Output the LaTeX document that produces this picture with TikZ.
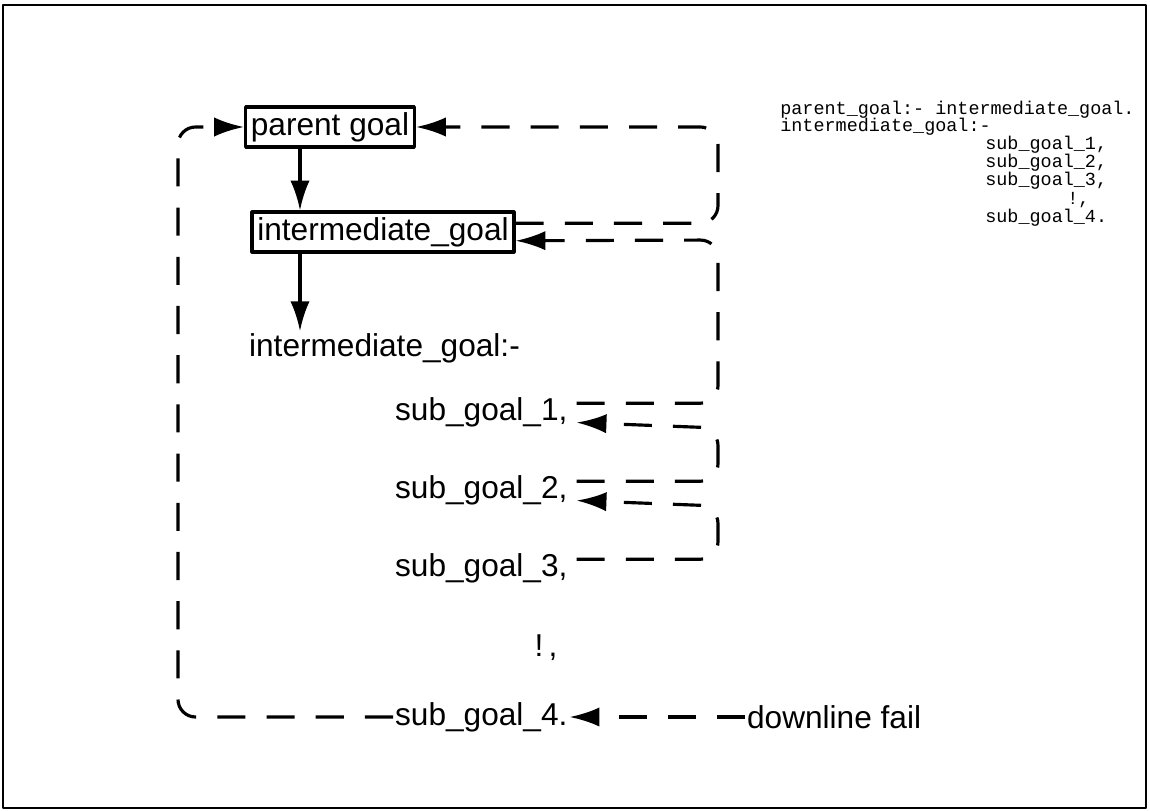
\documentclass[tikz,border=0pt]{standalone}
\usepackage{fontspec}
\setmainfont{Liberation Sans}
\newfontfamily\codefont{Liberation Mono}
\usetikzlibrary{arrows.meta}
\newcommand{\goalfont}{\fontsize{18}{20}\selectfont}
\newcommand{\clausefont}{\codefont\fontsize{10.5}{12}\selectfont}
\tikzset{
  goalbox/.style={draw, line width=1.8pt, inner sep=3pt, font=\goalfont},
  goaltext/.style={font=\goalfont, inner sep=1pt},
  clause/.style={font=\clausefont, inner sep=0pt, anchor=base west},
  call/.style={line width=1.8pt, -{Latex[length=17pt,width=11pt]}},
  fail/.style={line width=1.8pt, dash pattern=on 16pt off 12pt, rounded corners=10pt},
  failarrow/.style={fail, -{Latex[length=17pt,width=11pt]}}
}
\begin{document}
\begin{tikzpicture}[x=0.02cm, y=-0.02cm, line join=round]
  \useasboundingbox (0,0) rectangle (1150,811);
  \draw[line width=1.2pt] (3,5) rectangle (1146,808);
  % the clause as it is written
  \node[clause] (code1) at (780,114) {parent\_goal:- intermediate\_goal.};
  \node[clause] (code2) at (780,132) {intermediate\_goal:-};
  \node[clause] (code3) at (985,150) {sub\_goal\_1,};
  \node[clause] (code4) at (985,168) {sub\_goal\_2,};
  \node[clause] (code5) at (985,186) {sub\_goal\_3,};
  \node[clause] (code6) at (1067,204) {!,};
  \node[clause] (code7) at (985,222) {sub\_goal\_4.};
  % goals
  \node[goalbox] (parent) at (330,127) {parent goal};
  \node[goalbox] (inter) at (383,232) {intermediate\_goal};
  \node[goaltext, anchor=west] (head) at (247,348) {intermediate\_goal:-};
  \node[goaltext, anchor=west] (sg1) at (393,412) {sub\_goal\_1,};
  \node[goaltext, anchor=west] (sg2) at (393,490) {sub\_goal\_2,};
  \node[goaltext, anchor=west] (sg3) at (393,568) {sub\_goal\_3,};
  \node[goaltext] (cut) at (546,648) {!\,,};
  \node[goaltext, anchor=west] (sg4) at (393,717) {sub\_goal\_4.};
  \node[goaltext, anchor=west] (down) at (745,717) {downline fail};
  \coordinate (spine) at (300,0);
  \coordinate (rside) at (718,0);
  \coordinate (lside) at (178,0);
  % calls
  \draw[call] (spine |- parent.south) -- (spine |- inter.north);
  \draw[call] (spine |- inter.south) -- (spine |- head.north);
  % backtracking
  \draw[failarrow] ([yshift=5pt]inter.east) -| (rside |- parent.east) -- (parent.east);
  \draw[failarrow] ([yshift=5pt,xshift=4pt]sg1.east) -| (rside |- 0,240) -- ([yshift=-5pt]inter.east);
  \draw[failarrow] ([yshift=5pt,xshift=4pt]sg2.east) -| (rside |- 0,428) -- ([yshift=-6pt,xshift=4pt]sg1.east);
  \draw[failarrow] ([yshift=5pt,xshift=4pt]sg3.east) -| (rside |- 0,506) -- ([yshift=-6pt,xshift=4pt]sg2.east);
  \draw[failarrow] (sg4.west) -| (lside |- parent.west) -- (parent.west);
  \draw[failarrow] (down.west) -- (sg4.east);
\end{tikzpicture}
\end{document}
